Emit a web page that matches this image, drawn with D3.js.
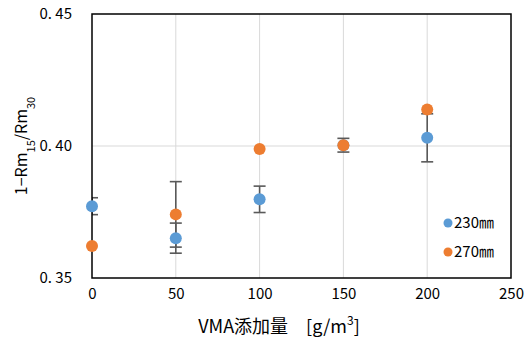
<!DOCTYPE html>
<html>
<head>
<meta charset="utf-8">
<script src="https://cdn.jsdelivr.net/npm/d3@7"></script>
<style>
  body { margin: 0; background: #fff; }
  text { font-family: "Noto Sans CJK JP", "Noto Sans", sans-serif; fill: #000; }
</style>
</head>
<body>
<div id="chart"></div>
<script>
var width = 529, height = 339;
var margin = {top: 14, right: 18, bottom: 61, left: 92};
var innerW = width - margin.left - margin.right,
    innerH = height - margin.top - margin.bottom;

// data
var vma = [0, 50, 100, 150, 200];
var s230 = [0.3772, 0.3651, 0.3798, 0.4003, 0.4031];
var err230 = [0.0032, 0.0057, 0.0050, 0.0026, 0.0091];
var s270 = [0.3621, 0.3741, 0.3989, 0.4003, 0.4138];
var err270 = [0, 0.0124, 0, 0, 0];
var xTicks = [0, 50, 100, 150, 200, 250];
var yTicks = [0.35, 0.40, 0.45];
var seriesNames = ["230㎜", "270㎜"];
var colors = ["#5B9BD5", "#ED7D31"];

var svg = d3.select("#chart").append("svg")
    .attr("width", width)
    .attr("height", height);

var x = d3.scaleLinear().domain([0, 250]).range([0, innerW]);
var y = d3.scaleLinear().domain([0.35, 0.45]).range([innerH, 0]);

var g = svg.append("g")
    .attr("transform", "translate(" + margin.left + "," + margin.top + ")");

g.append("clipPath").attr("id", "plotclip")
  .append("rect").attr("width", innerW).attr("height", innerH);

// gridlines
g.selectAll(".vgrid")
    .data(xTicks.slice(1, -1))
  .enter().append("line")
    .attr("x1", function(d) { return x(d); })
    .attr("x2", function(d) { return x(d); })
    .attr("y1", 0).attr("y2", innerH)
    .attr("stroke", "#d9d9d9").attr("stroke-width", 1);
g.selectAll(".hgrid")
    .data(yTicks.slice(1, -1))
  .enter().append("line")
    .attr("x1", 0).attr("x2", innerW)
    .attr("y1", function(d) { return y(d); })
    .attr("y2", function(d) { return y(d); })
    .attr("stroke", "#d9d9d9").attr("stroke-width", 1);

// axes (labels only)
var xAxis = g.append("g")
    .attr("transform", "translate(0," + innerH + ")")
    .call(d3.axisBottom(x).tickValues(xTicks).tickSize(0).tickPadding(10));
var yAxis = g.append("g")
    .call(d3.axisLeft(y).tickValues(yTicks).tickSize(0).tickPadding(20)
      .tickFormat(function(d) { return d3.format(".2f")(d).replace(".", ". "); }));
[xAxis, yAxis].forEach(function(a) {
  a.select(".domain").remove();
  a.selectAll("text")
    .style("font-family", "'Noto Sans CJK JP', sans-serif")
    .style("font-size", "15px")
    .attr("fill", "#000");
});

// error bars
var errData = [];
vma.forEach(function(v, i) {
  errData.push({x: v, y: s230[i], e: err230[i]});
  errData.push({x: v, y: s270[i], e: err270[i]});
});
var eb = g.append("g").attr("clip-path", "url(#plotclip)")
  .selectAll("g")
    .data(errData.filter(function(d) { return d.e > 0; }))
  .enter().append("g")
    .attr("stroke", "#595959").attr("stroke-width", 1.6);
eb.append("line")
    .attr("x1", function(d) { return x(d.x); })
    .attr("x2", function(d) { return x(d.x); })
    .attr("y1", function(d) { return y(d.y - d.e); })
    .attr("y2", function(d) { return y(d.y + d.e); });
eb.selectAll(".cap")
    .data(function(d) { return [{x: d.x, v: d.y - d.e}, {x: d.x, v: d.y + d.e}]; })
  .enter().append("line")
    .attr("x1", function(d) { return x(d.x) - 6; })
    .attr("x2", function(d) { return x(d.x) + 6; })
    .attr("y1", function(d) { return y(d.v); })
    .attr("y2", function(d) { return y(d.v); });

// frame
g.append("rect")
    .attr("width", innerW).attr("height", innerH)
    .attr("fill", "none").attr("stroke", "#000").attr("stroke-width", 1.5);

// markers
[s230, s270].forEach(function(s, k) {
  g.selectAll(".pt" + k)
      .data(s)
    .enter().append("circle")
      .attr("cx", function(d, i) { return x(vma[i]); })
      .attr("cy", function(d) { return y(d); })
      .attr("r", 6)
      .attr("fill", colors[k]);
});

// legend
var legend = g.selectAll(".legend")
    .data(seriesNames)
  .enter().append("g")
    .attr("transform", function(d, i) { return "translate(" + 356 + "," + (209 + i * 29) + ")"; });
legend.append("circle").attr("r", 4.5).attr("fill", function(d, i) { return colors[i]; });
legend.append("text")
    .attr("x", 6).attr("dy", "0.35em")
    .style("font-size", "15px")
    .text(function(d) { return d; });

// axis titles
svg.append("text")
    .attr("transform", "translate(27,146) rotate(-90)")
    .attr("text-anchor", "middle")
    .style("font-size", "16px")
    .html('1−Rm<tspan baseline-shift="sub" font-size="11px">15</tspan>/Rm<tspan baseline-shift="sub" font-size="11px">30</tspan>');

svg.append("text")
    .attr("x", 279)
    .attr("y", 333)
    .attr("text-anchor", "middle")
    .style("font-size", "18px")
    .html('VMA添加量\u3000[g/m<tspan baseline-shift="super" font-size="12px">3</tspan>]');
</script>
</body>
</html>
